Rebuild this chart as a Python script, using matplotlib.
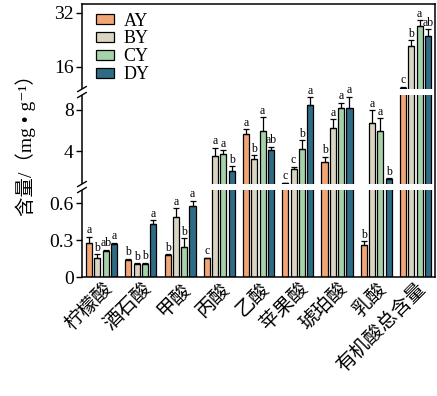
import numpy as np
import matplotlib
matplotlib.use('Agg')
import matplotlib.pyplot as plt
import matplotlib.transforms as mtransforms
from matplotlib.patches import Rectangle

plt.rcParams['font.family'] = ['Liberation Serif', 'Noto Sans CJK SC', 'DejaVu Sans']

# data (mg/g)
acids = ['柠檬酸', '酒石酸', '甲酸', '丙酸', '乙酸', '苹果酸', '琥珀酸', '乳酸', '有机酸总含量']
groups = ['AY', 'BY', 'CY', 'DY']
AY = [0.279, 0.138, 0.177, 0.152, 5.64, 0.95, 2.97, 0.26, 9.9]
BY = [0.152, 0.103, 0.486, 3.52, 3.20, 2.24, 6.25, 6.73, 22.2]
CY = [0.212, 0.106, 0.247, 3.71, 5.96, 4.16, 8.12, 5.93, 28.06]
DY = [0.269, 0.434, 0.578, 2.07, 4.10, 8.43, 8.12, 1.27, 25.1]
AY_err = [0.05, 0.01, 0.01, 0.005, 0.45, 0.03, 0.48, 0.03, 0.2]
BY_err = [0.035, 0.01, 0.075, 0.8, 0.4, 0.25, 0.8, 1.22, 1.7]
CY_err = [0.01, 0.01, 0.07, 0.35, 1.3, 0.9, 0.54, 1.22, 1.8]
DY_err = [0.01, 0.03, 0.045, 0.45, 0.3, 0.75, 1.1, 0.1, 2.0]
AY_sig = ['a', 'b', 'b', 'c', 'a', 'c', 'b', 'b', 'c']
BY_sig = ['b', 'b', 'a', 'a', 'b', 'c', 'a', 'a', 'b']
CY_sig = ['ab', 'b', 'b', 'a', 'a', 'b', 'a', 'a', 'a']
DY_sig = ['a', 'a', 'a', 'b', 'ab', 'a', 'a', 'b', 'ab']

colors = ['#F2A675', '#DAD5C2', '#A6D2AA', '#2D6C84']

# piecewise linear broken axis (value -> pixel-like units)
brk_v = [0, 0.71, 1.0, 9.4, 10.0, 40.0]
brk_d = [0, 87.2, 94.9, 182.0, 190.05, 190.05 + 30 * 3.375]


def fwd(v):
    return np.interp(v, brk_v, brk_d)


def inv(d):
    return np.interp(d, brk_d, brk_v)


fig = plt.figure(figsize=(4.37, 3.96), dpi=100)
ax = fig.add_axes([0.1876, 0.3005, 0.808, 0.6894])
ax.set_yscale('function', functions=(fwd, inv))

x = np.arange(len(acids))
w = 0.155
step = 0.212
vals = [AY, BY, CY, DY]
errs = [AY_err, BY_err, CY_err, DY_err]
sigs = [AY_sig, BY_sig, CY_sig, DY_sig]
for i in range(4):
    xi = x + (i - 1.5) * step
    ax.bar(xi, vals[i], w, color=colors[i], edgecolor='black', linewidth=0.9,
           label=groups[i], zorder=2)
    ax.errorbar(xi, vals[i], yerr=[np.zeros(len(acids)), errs[i]], fmt='none',
                ecolor='black', elinewidth=0.9, capsize=2, capthick=0.9, zorder=3)
    for xx, v, e, s in zip(xi, vals[i], errs[i], sigs[i]):
        ax.annotate(s, (xx, v + e), xytext=(0, 0.3), textcoords='offset points',
                    ha='center', va='bottom', fontsize=8.5, zorder=7)

ax.set_xlim(-0.5, len(acids) - 0.5)
ax.set_ylim(0, 34.6)
ax.set_yticks([0, 0.3, 0.6, 4, 8, 16, 32])
ax.set_yticklabels(['0', '0.3', '0.6', '4', '8', '16', '32'], fontsize=14)
ax.yaxis.set_minor_locator(matplotlib.ticker.NullLocator())
ax.tick_params(axis='y', length=4, width=1, pad=2)
ax.tick_params(axis='x', length=0, pad=1)
ax.set_xticks(x)
ax.set_xticklabels(acids, rotation=45, ha='right', va='top', rotation_mode='anchor',
                   fontsize=14, family=['Noto Sans CJK SC', 'DejaVu Sans'])
for sp in ax.spines.values():
    sp.set_linewidth(1.1)

# white gaps at the breaks with marks on the left spine
trans = mtransforms.blended_transform_factory(ax.transAxes, ax.transData)
for lo, hi in [(87.0, 93.0), (182.0, 188.0)]:
    y0, y1 = inv(lo), inv(hi)
    ax.add_patch(Rectangle((-0.02, y0), 1.018, y1 - y0, transform=trans,
                           facecolor='white', edgecolor='none', zorder=5, clip_on=False))
    for yy in (y0, y1):
        ax.plot([-0.012, 0.012], [inv(fwd(yy) - 2.5), inv(fwd(yy) + 2.5)], transform=trans,
                color='black', lw=1.0, zorder=6, clip_on=False)

ax.set_ylabel('含量/（mg • g⁻¹）', fontsize=14, labelpad=10)

ax.legend(loc='upper left', bbox_to_anchor=(0.02, 0.995), frameon=False, fontsize=13,
          handlelength=1.0, handleheight=0.45, handletextpad=0.5, labelspacing=0.05,
          borderaxespad=0)

fig.savefig('out.png', dpi=100)
